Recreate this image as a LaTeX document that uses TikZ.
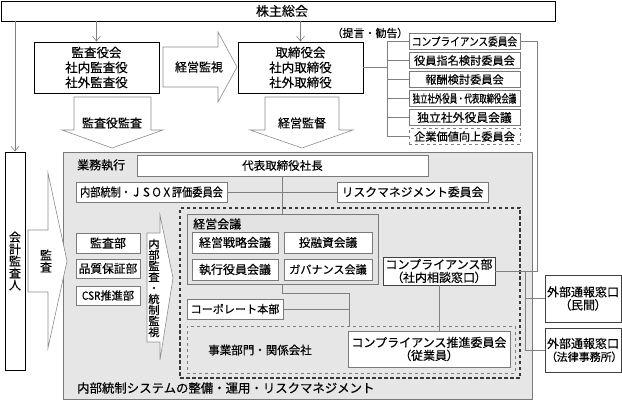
\documentclass[tikz,border=0pt]{standalone}
\usepackage{fontspec}
\usepackage{graphicx}
\usetikzlibrary{arrows.meta}
\newfontfamily\jp{Noto Sans CJK JP}[FakeBold=0.35]
\newfontfamily\jpp{Noto Sans CJK JP}[RawFeature=+palt,FakeBold=0.35]
\newcommand\jfs[1]{\fontsize{#1}{#1}\selectfont}
\definecolor{regfill}{HTML}{E6E6E6}
\definecolor{keifill}{HTML}{E3E3E3}
\definecolor{bordgray}{HTML}{7A7A7A}
\definecolor{linegray}{HTML}{808080}
\definecolor{arrgray}{HTML}{8C8C8C}
\definecolor{dotgray}{HTML}{383838}
\begin{document}
\begin{tikzpicture}[x=1pt,y=-1pt,
  every node/.style={font=\jp\fontsize{12}{13}\selectfont, inner sep=0pt, align=center, text=black},
  mainbox/.style={draw=black, line width=0.8pt, fill=white},
  combox/.style={draw=bordgray, line width=0.8pt, fill=white, minimum width=111pt, minimum height=16.5pt, font=\jp\fontsize{11.2}{12}\selectfont},
  inbox/.style={draw=bordgray, line width=0.7pt, fill=white},
  conn/.style={draw=linegray, line width=0.6pt},
  blockarrow/.style={draw=arrgray, fill=white, line width=0.6pt, line join=miter},
  thinarrow/.style={draw=linegray, line width=0.6pt, -{Straight Barb[length=5pt,width=8pt]}}
]
\useasboundingbox (0,0) rectangle (622,401);

% ---------- top part ----------
\node[mainbox, minimum width=554pt, minimum height=20pt, font=\jp\jfs{13}] (kabu) at (278,11) {\hspace*{8pt}株主総会};
\node[mainbox, minimum width=125pt, minimum height=51pt, font=\jp\fontsize{12.5}{15}\selectfont] (kansa) at (96.5,67.5) {監査役会\\社内監査役\\社外監査役};
\node[mainbox, minimum width=125pt, minimum height=51pt, font=\jp\fontsize{12.5}{15}\selectfont] (tori) at (300.5,67.5) {取締役会\\社内取締役\\社外取締役};

% block arrows top
\draw[blockarrow] (163,47) -- (218,47) -- (218,32) -- (237,67) -- (218,102) -- (218,87) -- (163,87) -- cycle;
\node (kanshi) at (199,67) {経営監視};
\draw[blockarrow] (74,97) -- (151,97) -- (151,130) -- (163,130) -- (112,148) -- (62,130) -- (74,130) -- cycle;
\node (kansakansa) at (112,123) {監査役監査};
\draw[blockarrow] (265,97) -- (339,97) -- (339,130) -- (353,130) -- (302,148) -- (250,130) -- (265,130) -- cycle;
\node (kantoku) at (302,123) {経営監督};

\node[font=\jp\jfs{11}] (teigen) at (370,33) {{\jpp （}提言・勧告{\jpp ）}};

% committees
\node[combox] (c1) at (464.5,41.5) {\scalebox{0.86}[1]{コンプライアンス委員会}};
\node[combox] (c2) at (464.5,60.5) {役員指名検討委員会};
\node[combox] (c3) at (464.5,79.5) {報酬検討委員会};
\node[combox] (c4) at (464.5,98.5) {\scalebox{0.66}[1]{独立社外役員・代表取締役会議}};
\node[combox, font=\jp\fontsize{11.8}{12}\selectfont] (c5) at (464.5,117.5) {独立社外役員会議};
\node[combox, dashed, draw=linegray] (c6) at (464.5,136.5) {企業価値向上委員会};

\coordinate (bx) at (387,67);
\draw[conn] (tori.east) -- (tori.east -| bx);
\draw[conn] (c1.west -| bx) -- (c6.west -| bx);
\foreach \i in {1,...,6} {\draw[conn] (c\i.west) -- (c\i.west -| bx);}

% ---------- execution region ----------
\node[draw=bordgray, line width=0.7pt, fill=regfill, minimum width=469pt, minimum height=247pt] (region) at (297.5,275.5) {};
\node[anchor=west] (gyomu) at (77,165) {業務執行};
\node[anchor=west, font=\jp\jfs{12.4}] (naibulbl) at (77,388) {内部統制システムの整備・運用・リスクマネジメント};

\node[inbox, minimum width=291pt, minimum height=21pt, font=\jp\jfs{11.5}] (ceo) at (282.5,165.5) {代表取締役社長};
\node[inbox, minimum width=151pt, minimum height=20pt, font=\jp\jfs{12}] (jsox) at (151.5,192) {\scalebox{0.85}[1]{内部統制・ＪＳＯＸ評価委員会}};
\node[inbox, minimum width=151pt, minimum height=20pt, font=\jp\jfs{11.8}] (risk) at (412.5,192) {リスクマネジメント委員会};

\node[draw=dotgray, line width=2.2pt, dash pattern=on 3.5pt off 2.5pt, minimum width=340pt, minimum height=170pt] (dotreg) at (350,293) {};

\node[draw=bordgray, line width=0.8pt, fill=keifill, minimum width=191pt, minimum height=70pt] (keiei) at (282.5,249) {};
\node[anchor=west] (keieilbl) at (193,224) {経営会議};
\node[inbox, minimum width=86pt, minimum height=21pt] (k1) at (235,242.5) {経営戦略会議};
\node[inbox, minimum width=88pt, minimum height=21pt, font=\jp\jfs{11.7}] (k2) at (328,242.5) {投融資会議};
\node[inbox, minimum width=86pt, minimum height=21pt] (k3) at (235,269.5) {執行役員会議};
\node[inbox, minimum width=88pt, minimum height=21pt, font=\jp\jfs{11.1}] (k4) at (328,269.5) {ガバナンス会議};

\node[inbox, minimum width=96pt, minimum height=20pt, font=\jp\jfs{11.1}] (corp) at (235,309) {コーポレート本部};

\node[draw=linegray, dashed, line width=0.7pt, fill=regfill, minimum width=328pt, minimum height=47pt] (jigyo) at (351,349.5) {};
\node[font=\jp\jfs{11.5}] (jigyolbl) at (260,350) {事業部門・関係会社};
\node[inbox, minimum width=162pt, minimum height=36pt] (suishin) at (429,349) {コンプライアンス推進委員会\\{\jpp （従業員）}};

\node[inbox, draw=black!75, minimum width=112pt, minimum height=28pt] (compdept) at (439,271) {コンプライアンス部\\{\jpp （社内相談窓口）}};

\node[inbox, draw=black!75, minimum width=76pt, minimum height=47pt] (ext1) at (583,298.5) {外部通報窓口\\{\jpp （民間）}};
\node[inbox, draw=black!75, minimum width=76pt, minimum height=44pt] (ext2) at (583,350) {外部通報窓口\\{\jpp\jfs{11} （法律事務所）}};

\node[inbox, minimum width=64pt, minimum height=20pt] (kansabu) at (108,243) {監査部};
\node[inbox, minimum width=64pt, minimum height=19pt, font=\jp\jfs{11.7}] (hinshitsu) at (108,268.5) {品質保証部};
\node[inbox, minimum width=64pt, minimum height=19pt, font=\jp\jfs{11.2}] (csr) at (108,295.5) {\scalebox{0.9}[1]{CSR}推進部};

% internal audit arrow
\draw[blockarrow] (147,233) -- (160,233) -- (160,215) -- (173,278) -- (160,360) -- (160,342) -- (147,342) -- cycle;
\node[font=\jp\fontsize{11.3}{11}\selectfont] (naibukansa) at (154,288) {内\\部\\監\\査\\・\\統\\制\\監\\視};

% external auditor
\node[mainbox, minimum width=20pt, minimum height=218pt, font=\jp\fontsize{12}{12}\selectfont] (kaikei) at (15,261) {会\\計\\監\\査\\人};
\draw[blockarrow] (28,230) -- (48,230) -- (48,173) -- (67,261) -- (48,348) -- (48,292) -- (28,292) -- cycle;
\node[font=\jp\fontsize{12}{12}\selectfont] (kansalbl) at (46,261) {監\\査};

% ---------- connectors ----------
\draw[thinarrow] (kansa.north |- kabu.south) -- (kansa.north);
\draw[thinarrow] (tori.north |- kabu.south) -- (tori.north);
\draw[thinarrow] (kaikei.north |- kabu.south) -- (kaikei.north);

\draw[conn] (jsox.east) -- (risk.west);
\draw[conn] (ceo.south) -- (keiei.north);
\coordinate (vx) at (349,293);
\draw[conn] (keiei.south) |- (vx) -- (vx |- jigyo.north);
\draw[conn] (corp.east) -- (corp.east -| vx);
\draw[conn] (compdept.south) -- (compdept.south |- suishin.north);

\coordinate (cx) at (537,0);
\draw[conn] (c1.east) -- (c1.east -| cx) |- (compdept.east);
\coordinate (ex) at (525,0);
\draw[conn] (compdept.east -| ex) |- (ext2.west);
\draw[conn] (ext1.west -| ex) -- (ext1.west);
\end{tikzpicture}
\end{document}
